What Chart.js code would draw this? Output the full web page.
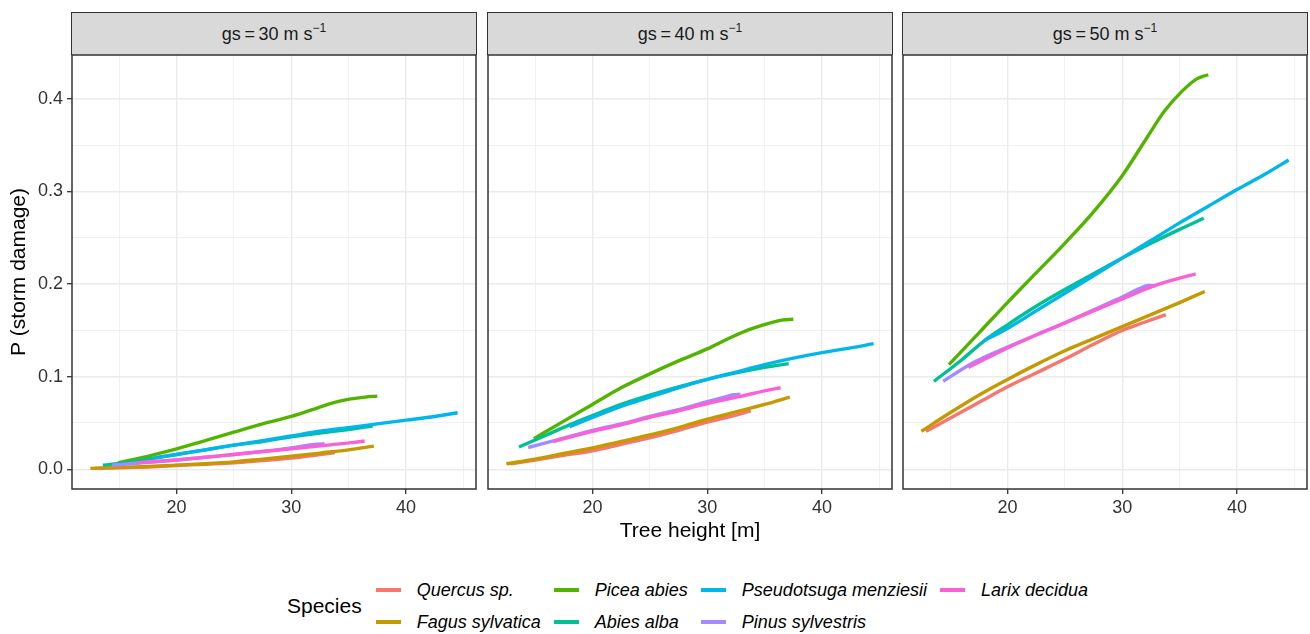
<!DOCTYPE html>
<html>
<head>
<meta charset="utf-8">
<script src="https://cdn.jsdelivr.net/npm/chart.js@4.4.0/dist/chart.umd.min.js"></script>
<style>
  body { margin: 0; background: #fff; font-family: "Liberation Sans", Arial, sans-serif; }
  #wrap { position: relative; width: 1310px; height: 634px; overflow: hidden; }
  canvas { position: absolute; }
  .strip {
    position: absolute; top: 12px; height: 43px; box-sizing: border-box;
    background: #D9D9D9; border: 1.5px solid #333; border-bottom: none;
    text-align: center; line-height: 43px; font-size: 18px; color: #1A1A1A;
  }
  .strip sup { font-size: 12px; line-height: 0; position: relative; top: -1px; }
  #legend { position: absolute; left: 287px; top: 574px; height: 64px; display: flex; align-items: center; }
  #legend .ltitle { font-size: 21px; color: #000; margin-right: 14px; }
  #lgrid { display: grid; grid-template-rows: 32px 32px; grid-auto-flow: column; column-gap: 13px; }
  .item { display: flex; align-items: center; font-size: 18px; font-style: italic; color: #000; }
  .key { width: 25px; height: 4px; margin-right: 16px; }
</style>
</head>
<body>
<div id="wrap">
  <div id="legend"><div class="ltitle">Species</div><div id="lgrid"></div></div>
</div>
<script>
const species = ["Quercus sp.", "Fagus sylvatica", "Picea abies", "Abies alba",
                 "Pseudotsuga menziesii", "Pinus sylvestris", "Larix decidua"];
const colors = ["#F8766D", "#C49A00", "#53B400", "#00C094", "#00B6EB", "#A58AFF", "#FB61D7"];
const gustSpeeds = [30, 40, 50];

// tree height [m], one list per species (same order as species)
const heights = [
  [12.9, 15, 17.5, 20, 22.5, 25, 27.5, 30, 32, 33.8],
  [12.5, 15, 17.5, 20, 22.5, 25, 27.5, 30, 32.5, 35, 37.2],
  [14.9, 17.5, 20, 22.5, 25, 27.5, 30, 32, 33.7, 35.2, 36.5, 37.5],
  [13.6, 16, 18, 20, 22.5, 25, 27.5, 30, 32.5, 35, 37.1],
  [18, 20, 22.5, 25, 27.5, 30, 32.5, 35, 37.5, 40, 42.5, 44.5],
  [14.4, 17, 20, 22.5, 25, 28, 30, 31.5, 32.3, 32.9],
  [16.6, 20, 22.5, 25, 27.5, 30, 33, 35.5, 36.4]
];

// P (storm damage) at gs = 30 m/s
const p30 = [
  [0.001, 0.0015, 0.0025, 0.004, 0.0055, 0.007, 0.0095, 0.012, 0.015, 0.018],
  [0.001, 0.002, 0.003, 0.0045, 0.006, 0.008, 0.011, 0.014, 0.0175, 0.021, 0.025],
  [0.007, 0.014, 0.022, 0.031, 0.040, 0.049, 0.057, 0.065, 0.072, 0.076, 0.078, 0.079],
  [0.0043, 0.008, 0.012, 0.016, 0.021, 0.026, 0.030, 0.035, 0.039, 0.043, 0.0467],
  [0.012, 0.016, 0.021, 0.026, 0.031, 0.036, 0.041, 0.045, 0.049, 0.053, 0.057, 0.061],
  [0.0043, 0.007, 0.010, 0.013, 0.016, 0.020, 0.023, 0.026, 0.027, 0.0277],
  [0.007, 0.010, 0.013, 0.016, 0.019, 0.022, 0.026, 0.029, 0.0305]
];

// P (storm damage) at gs = 40 m/s
const p40 = [
  [0.006, 0.010, 0.015, 0.020, 0.027, 0.034, 0.042, 0.051, 0.057, 0.063],
  [0.006, 0.011, 0.017, 0.023, 0.030, 0.037, 0.045, 0.054, 0.062, 0.070, 0.078],
  [0.033, 0.052, 0.070, 0.088, 0.103, 0.117, 0.130, 0.142, 0.151, 0.157, 0.161, 0.162],
  [0.024, 0.037, 0.048, 0.058, 0.070, 0.080, 0.089, 0.097, 0.104, 0.110, 0.114],
  [0.046, 0.056, 0.068, 0.078, 0.088, 0.097, 0.105, 0.113, 0.120, 0.126, 0.131, 0.1356],
  [0.0235, 0.032, 0.042, 0.049, 0.057, 0.066, 0.073, 0.078, 0.0805, 0.081],
  [0.030, 0.041, 0.048, 0.056, 0.063, 0.071, 0.079, 0.086, 0.088]
];

// P (storm damage) at gs = 50 m/s
const p50 = [
  [0.041, 0.055, 0.072, 0.089, 0.104, 0.119, 0.135, 0.150, 0.159, 0.167],
  [0.041, 0.061, 0.080, 0.097, 0.113, 0.128, 0.141, 0.154, 0.167, 0.180, 0.192],
  [0.113, 0.147, 0.180, 0.212, 0.244, 0.278, 0.317, 0.355, 0.387, 0.408, 0.4215, 0.426],
  [0.095, 0.118, 0.139, 0.156, 0.176, 0.194, 0.211, 0.228, 0.244, 0.259, 0.271],
  [0.139, 0.152, 0.171, 0.190, 0.209, 0.228, 0.247, 0.266, 0.284, 0.302, 0.319, 0.334],
  [0.095, 0.115, 0.132, 0.145, 0.158, 0.175, 0.186, 0.195, 0.1985, 0.198],
  [0.110, 0.131, 0.145, 0.158, 0.171, 0.184, 0.199, 0.208, 0.211]
];

const panelValues = [p30, p40, p50];

Chart.defaults.font.family = "'Liberation Sans', Arial, sans-serif";

const panelLeft = [72, 488, 903];
const panelWidth = 404;
const panelTop = 55;
const panelHeight = 434;
const xAxisHeight = 62;

const isMajorX = v => Math.round(v) % 10 === 0;
const isMajorY = v => Math.round(v * 100) % 10 === 0;

// box around each panel, like theme_bw
const panelBorder = {
  id: "panelBorder",
  afterDraw(chart) {
    const { ctx, chartArea: a } = chart;
    ctx.save();
    ctx.strokeStyle = "#333333";
    ctx.lineWidth = 1.5;
    ctx.strokeRect(a.left, a.top, a.right - a.left, a.bottom - a.top);
    ctx.restore();
  }
};

const wrap = document.getElementById("wrap");

gustSpeeds.forEach((gs, p) => {
  const strip = document.createElement("div");
  strip.className = "strip";
  strip.style.left = (panelLeft[p] - 0.75) + "px";
  strip.style.width = (panelWidth + 1.5) + "px";
  strip.innerHTML = "gs\u2009=\u2009" + gs + " m s<sup>\u22121</sup>";
  wrap.appendChild(strip);

  const first = p === 0;
  const canvas = document.createElement("canvas");
  const cLeft = first ? 0 : panelLeft[p] - 2;
  const cWidth = first ? panelLeft[0] + panelWidth + 2 : panelWidth + 4;
  canvas.width = cWidth;
  canvas.height = 2 + panelHeight + xAxisHeight;
  canvas.style.left = cLeft + "px";
  canvas.style.top = (panelTop - 2) + "px";
  wrap.appendChild(canvas);

  const datasets = species.map((name, i) => ({
    label: name,
    data: heights[i].map((h, k) => ({ x: h, y: panelValues[p][i][k] })),
    borderColor: colors[i],
    borderWidth: 3.4,
    pointRadius: 0,
    cubicInterpolationMode: "monotone",
    borderJoinStyle: "round",
    fill: false,
    order: species.length - i
  }));

  new Chart(canvas, {
    type: "line",
    data: { datasets },
    options: {
      responsive: false,
      animation: false,
      devicePixelRatio: 1,
      layout: { padding: { top: 2, right: 2, bottom: 0, left: first ? 0 : 2 } },
      plugins: { legend: { display: false }, tooltip: { enabled: false } },
      scales: {
        x: {
          type: "linear",
          min: 10.9,
          max: 46.1,
          border: { display: false },
          grid: {
            color: "#EBEBEB",
            lineWidth: c => isMajorX(c.tick.value) ? 1.4 : 0.7,
            tickColor: c => isMajorX(c.tick.value) ? "#333333" : "rgba(0,0,0,0)",
            tickWidth: 1.3,
            tickLength: 5
          },
          ticks: {
            stepSize: 5,
            includeBounds: false,
            autoSkip: false,
            maxRotation: 0,
            padding: 3,
            color: "#333333",
            font: { size: 18 },
            callback: v => isMajorX(v) ? String(v) : ""
          },
          title: {
            display: p === 1,
            text: "Tree height [m]",
            color: "#000",
            font: { size: 21 },
            padding: { top: 0, bottom: 7 }
          },
          afterFit: s => {
            s.height = xAxisHeight;
            s.paddingLeft = 0; s.paddingRight = 0;
          }
        },
        y: {
          min: -0.0213,
          max: 0.4473,
          border: { display: false },
          grid: {
            color: "#EBEBEB",
            lineWidth: c => isMajorY(c.tick.value) ? 1.4 : 0.7,
            tickColor: c => isMajorY(c.tick.value) ? "#333333" : "rgba(0,0,0,0)",
            tickWidth: 1.3,
            tickLength: 5,
            drawTicks: first
          },
          ticks: {
            display: first,
            stepSize: 0.05,
            includeBounds: false,
            autoSkip: false,
            padding: 4,
            color: "#333333",
            font: { size: 18 },
            callback: v => isMajorY(v) ? v.toFixed(1) : ""
          },
          title: {
            display: first,
            text: "P (storm damage)",
            color: "#000",
            font: { size: 21 },
            padding: { top: 7, bottom: 0 }
          },
          afterFit: s => {
            s.width = first ? panelLeft[0] : 0;
            s.paddingTop = 0; s.paddingBottom = 0;
          }
        }
      }
    },
    plugins: [panelBorder]
  });
});

// legend, filled column by column like the original (2 rows)
const lgrid = document.getElementById("lgrid");
species.forEach((name, i) => {
  const item = document.createElement("div");
  item.className = "item";
  item.innerHTML = '<span class="key" style="background:' + colors[i] + '"></span><span>' + name + "</span>";
  lgrid.appendChild(item);
});
</script>
</body>
</html>
